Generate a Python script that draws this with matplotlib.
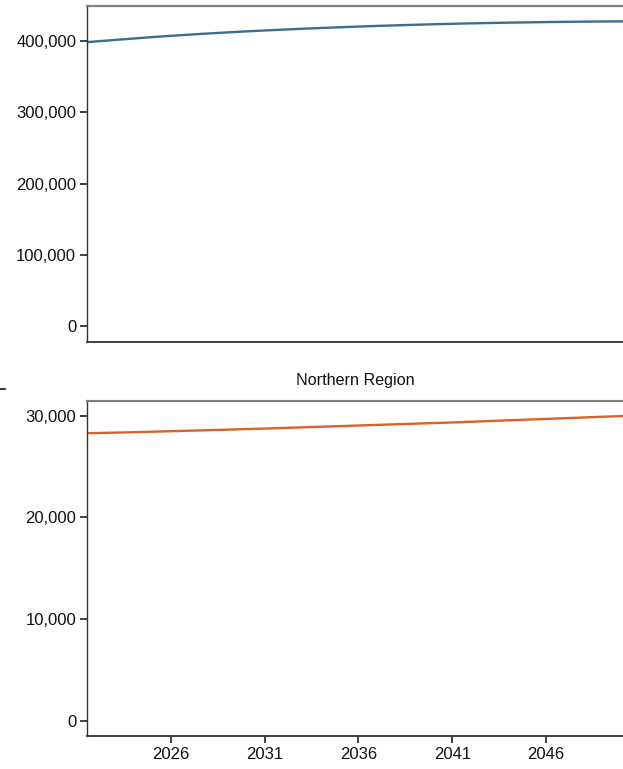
import matplotlib
matplotlib.use('Agg')
import matplotlib.pyplot as plt
import matplotlib.ticker as mtick
from matplotlib.lines import Line2D
from matplotlib import font_manager

names = set(f.name for f in font_manager.fontManager.ttflist)
fam = [n for n in ['Liberation Sans Narrow', 'Arial Narrow', 'Liberation Sans'] if n in names] + ['DejaVu Sans']
plt.rcParams['font.family'] = fam

years = list(range(2021, 2052))
total = [397000, 399500, 401500, 403500, 405500, 407300, 409000, 410600, 412100, 413500,
         414800, 416000, 417200, 418300, 419300, 420300, 421200, 422000, 422800, 423500,
         424200, 424800, 425300, 425800, 426200, 426600, 426900, 427200, 427400, 427600, 427700]
northern = [28250, 28290, 28330, 28370, 28420, 28470, 28520, 28570, 28620, 28680,
            28730, 28790, 28850, 28910, 28970, 29030, 29090, 29150, 29210, 29270,
            29330, 29400, 29470, 29540, 29610, 29680, 29750, 29820, 29890, 29960, 30030]
xticks = [2026, 2031, 2036, 2041, 2046]
top_ticks = [0, 100000, 200000, 300000, 400000]
bot_ticks = [0, 10000, 20000, 30000]

W, H = 623, 769
fig = plt.figure(figsize=(W / 100, H / 100), dpi=100)

def px(l, t, r, b):
    return [l / W, 1 - b / H, (r - l) / W, (b - t) / H]

ax1 = fig.add_axes(px(87.3, 6.3, 623, 341.7))
ax2 = fig.add_axes(px(87.3, 400.7, 623, 736))

def style(ax):
    ax.spines['right'].set_visible(False)
    ax.spines['top'].set_color('#7f7f7f')
    ax.spines['top'].set_linewidth(1.6)
    for s in ['left', 'bottom']:
        ax.spines[s].set_color('#333333')
        ax.spines[s].set_linewidth(1.0)
    ax.tick_params(axis='both', length=5, width=1.3, color='#333333',
                   labelsize=12, labelcolor='#111111', pad=3)
    ax.yaxis.set_major_formatter(mtick.StrMethodFormatter('{x:,.0f}'))
    ax.set_xlim(2021.55, 2050.1)

ax1.plot(years, total, color='#3d6e91', lw=1.7)
ax1.set_ylim(-21400, 448700)
ax1.set_yticks(top_ticks)
style(ax1)
ax1.set_xticks(xticks)
ax1.tick_params(axis='x', bottom=False, labelbottom=False)
ax1.spines['bottom'].set_linewidth(1.3)

ax2.plot(years, northern, color='#d9622b', lw=1.7)
ax2.set_ylim(-1500, 31470)
ax2.set_yticks(bot_ticks)
style(ax2)
ax2.set_xticks(xticks)
ax2.set_xticklabels([str(x) for x in xticks])
ax2.spines['bottom'].set_linewidth(1.3)
ax2.set_title('Northern Region', fontsize=11.6, color='#111111', pad=11)

fig.add_artist(Line2D([0, 5 / W], [1 - 389 / H, 1 - 389 / H], color='#222222', lw=1.3))

fig.savefig('out.png', dpi=100)
